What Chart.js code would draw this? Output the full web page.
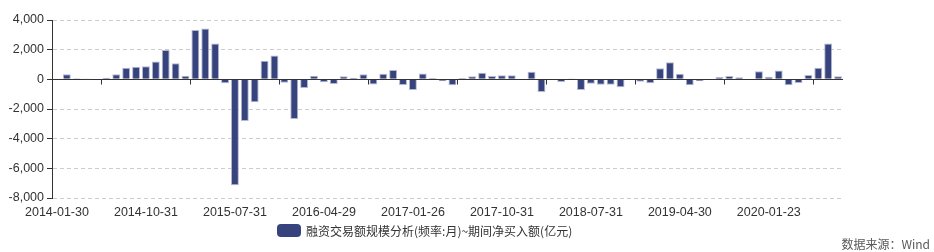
<!DOCTYPE html>
<html>
<head>
<meta charset="utf-8">
<script src="https://cdn.jsdelivr.net/npm/chart.js@4/dist/chart.umd.min.js"></script>
<style>
  html, body { margin: 0; padding: 0; background: #fff; }
  #wrap { position: relative; width: 934px; height: 252px; }
  #c { position: absolute; left: 0; top: 0; }
  #legend { position: absolute; left: 277px; top: 223px; height: 14px; display: flex; align-items: center;
    font: 12px "Noto Sans CJK SC", "Liberation Sans", sans-serif; color: #333; white-space: nowrap; }
  #legend .sw { width: 24px; height: 13px; border-radius: 4px; background: #37437c; margin-right: 5px; }
  #source { position: absolute; right: 4px; top: 235px; font: 12px "Noto Sans CJK SC", "Liberation Sans", sans-serif; color: #595959; white-space: nowrap; }
</style>
</head>
<body>
<div id="wrap">
  <canvas id="c" width="934" height="252"></canvas>
  <div id="legend"><span class="sw"></span><span>融资交易额规模分析(频率:月)~期间净买入额(亿元)</span></div>
  <div id="source">数据来源：Wind</div>
</div>
<script>
const categories = [
  '2014-01-30','2014-02-28','2014-03-31','2014-04-30','2014-05-30','2014-06-30','2014-07-31','2014-08-29','2014-09-30','2014-10-31','2014-11-28','2014-12-31',
  '2015-01-30','2015-02-27','2015-03-31','2015-04-30','2015-05-29','2015-06-30','2015-07-31','2015-08-31','2015-09-30','2015-10-30','2015-11-30','2015-12-31',
  '2016-01-29','2016-02-29','2016-03-31','2016-04-29','2016-05-31','2016-06-30','2016-07-29','2016-08-31','2016-09-30','2016-10-31','2016-11-30','2016-12-30',
  '2017-01-26','2017-02-28','2017-03-31','2017-04-28','2017-05-31','2017-06-30','2017-07-31','2017-08-31','2017-09-29','2017-10-31','2017-11-30','2017-12-29',
  '2018-01-31','2018-02-28','2018-03-30','2018-04-27','2018-05-31','2018-06-29','2018-07-31','2018-08-31','2018-09-28','2018-10-31','2018-11-30','2018-12-28',
  '2019-01-31','2019-02-28','2019-03-29','2019-04-30','2019-05-31','2019-06-28','2019-07-31','2019-08-30','2019-09-30','2019-10-31','2019-11-29','2019-12-31',
  '2020-01-23','2020-02-28','2020-03-31','2020-04-30','2020-05-29','2020-06-30','2020-07-31','2020-08-31'
];
const netBuy = [
  30, 350, 80, 10, -30, 110, 350, 780, 850, 880, 1210, 1980,
  1080, 245, 3320, 3430, 2420, -270, -7140, -2810, -1540, 1250, 1615, -230,
  -2670, -580, 245, -200, -315, 200, 110, 340, -340, 380, 630, -380,
  -720, 400, 90, -135, -400, 90, 200, 450, 220, 270, 270, -40,
  510, -855, 40, -180, 15, -720, -300, -360, -360, -540, 0, -160,
  -270, 740, 1145, 380, -400, -135, -40, 150, 220, 135, -20, 540,
  180, 600, -400, -250, 290, 780, 2420, 200
];
const yTicks = [4000, 2000, 0, -2000, -4000, -6000, -8000];
const seriesName = '融资交易额规模分析(频率:月)~期间净买入额(亿元)';
const labelEvery = 9;

const xTickPlugin = {
  id: 'xTickMarks',
  afterDatasetsDraw(chart) {
    const xs = chart.scales.x, ys = chart.scales.y;
    const ctx = chart.ctx;
    const y0 = Math.round(ys.getPixelForValue(0)) + 0.5;
    const half = (xs.getPixelForValue(1) - xs.getPixelForValue(0)) / 2;
    ctx.save();
    ctx.strokeStyle = '#333';
    ctx.lineWidth = 1;
    for (let n = 5; n < categories.length; n += labelEvery) {
      const x = Math.round(xs.getPixelForValue(n) - half) + 0.5;
      ctx.beginPath();
      ctx.moveTo(x, y0);
      ctx.lineTo(x, y0 + 5);
      ctx.stroke();
    }
    ctx.restore();
  }
};

new Chart(document.getElementById('c'), {
  type: 'bar',
  data: {
    labels: categories,
    datasets: [{
      label: seriesName,
      data: netBuy,
      backgroundColor: '#37437c',
      borderColor: 'rgba(170,176,205,0.9)',
      borderWidth: 1,
      barPercentage: 0.8,
      categoryPercentage: 1.0
    }]
  },
  options: {
    responsive: false,
    animation: false,
    layout: { padding: { top: 20, right: 91, left: 0, bottom: 0 } },
    plugins: { legend: { display: false }, tooltip: { enabled: false } },
    scales: {
      x: {
        grid: { display: false, drawTicks: false },
        border: { display: false },
        ticks: {
          autoSkip: false, maxRotation: 0, minRotation: 0, padding: 7,
          color: '#333', font: { family: '"Liberation Sans", Arial, sans-serif', size: 12.5 },
          callback: (v, i) => (i % labelEvery === 0 ? categories[i] : '')
        },
        afterFit: s => { s.height = 54; }
      },
      y: {
        min: -8000, max: 4000,
        afterBuildTicks: s => { s.ticks = yTicks.map(v => ({ value: v })); },
        grid: {
          color: c => (c.tick && c.tick.value === 0 ? '#333' : '#cccccc'),
          tickColor: '#333', tickLength: 5, lineWidth: 1
        },
        border: {
          display: true, color: '#333',
          dash: c => (c.tick && c.tick.value !== 0 ? [4, 3] : [])
        },
        ticks: {
          padding: 3, color: '#333',
          font: { family: '"Liberation Sans", Arial, sans-serif', size: 12.5 },
          callback: v => v.toLocaleString('en-US')
        },
        afterFit: s => { s.width = 52; }
      }
    }
  },
  plugins: [xTickPlugin]
});
</script>
</body>
</html>
